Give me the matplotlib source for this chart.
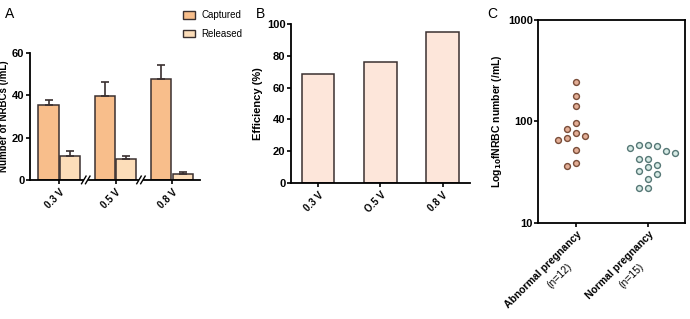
import numpy as np
import matplotlib
matplotlib.use("Agg")
import matplotlib.pyplot as plt
from matplotlib.patches import Patch

plt.rcParams["font.family"] = ["Liberation Sans", "DejaVu Sans"]
plt.rcParams["font.weight"] = "bold"
plt.rcParams["axes.labelweight"] = "bold"
plt.rcParams["mathtext.default"] = "bf"

# Panel A: captured / released NRBCs per voltage
voltages = ["0.3 V", "0.5 V", "0.8 V"]
captured = [35.4, 39.7, 47.9]
captured_err = [2.4, 6.7, 6.4]
released = [11.5, 9.8, 3.0]
released_err = [2.2, 1.7, 0.6]

# Panel B: efficiency
eff_labels = ["0.3 V", "O.5 V", "0.8 V"]
efficiency = [68.6, 76.3, 94.9]

# Panel C: fNRBC counts
groups = ["Abnormal pregnancy", "Normal pregnancy"]
group_n = ["(n=12)", "(n=15)"]
abnormal = [243, 178, 142, 95.6, 85, 72, 65, 69, 77, 52, 36.4, 39]
normal = [57.8, 54.4, 57.4, 58.9, 50.5, 48.5, 43, 43, 37, 35.2,
          30.3, 32.2, 27, 22.2, 22.2]

C_CAP = "#F8BE8B"
C_REL = "#FCDDB9"
C_EFF = "#FDE6DA"
EDGE = "#3a3030"

fig = plt.figure(figsize=(6.9, 3.19), dpi=100)

# ---------------- A ----------------
axA = fig.add_axes([0.0435, 0.436, 0.2465, 0.398])
x = np.arange(len(voltages))
w = 0.36
axA.bar(x - 0.19, captured, w, color=C_CAP, edgecolor=EDGE, linewidth=1.1,
        yerr=[np.zeros(3), captured_err], capsize=3,
        error_kw=dict(elinewidth=1.2, capthick=1.2, ecolor=EDGE))
axA.bar(x + 0.19, released, w, color=C_REL, edgecolor=EDGE, linewidth=1.1,
        yerr=[np.zeros(3), released_err], capsize=3,
        error_kw=dict(elinewidth=1.2, capthick=1.2, ecolor=EDGE))
axA.set_xlim(-0.52, 2.5)
axA.set_ylim(0, 60)
axA.set_yticks([0, 20, 40, 60])
axA.set_xticks(x)
axA.set_xticklabels(voltages, rotation=45, ha="right", rotation_mode="anchor",
                    fontsize=7)
axA.tick_params(axis="y", labelsize=8, width=1.2, length=3, pad=1)
axA.tick_params(axis="x", width=1.2, length=3, pad=2)
for s in ["top", "right", "bottom"]:
    axA.spines[s].set_visible(False)
axA.spines["left"].set_linewidth(1.3)
axA.set_ylabel("Number of NRBCs (/mL)", fontsize=7)
axA.yaxis.set_label_coords(-0.125, 0.5)

# broken x axis
tr = axA.get_xaxis_transform()
breaks = [0.47, 1.45]
segs = [(-0.52, breaks[0] - 0.05), (breaks[0] + 0.05, breaks[1] - 0.05),
        (breaks[1] + 0.05, 2.5)]
for a, b in segs:
    axA.plot([a, b], [0, 0], color="black", lw=1.3, transform=tr, clip_on=False)
for b in breaks:
    for d in (-0.035, 0.035):
        axA.plot([b + d - 0.04, b + d + 0.04], [-0.03, 0.03], color="black",
                 lw=1.0, transform=tr, clip_on=False)

fig.legend(handles=[Patch(facecolor=C_CAP, edgecolor=EDGE),
                    Patch(facecolor=C_REL, edgecolor=EDGE)],
           labels=["Captured", "Released"], loc="upper left",
           bbox_to_anchor=(0.252, 0.995), frameon=False, handlelength=1.3,
           handleheight=0.8, labelspacing=0.9, handletextpad=0.6,
           prop=dict(size=7, weight="normal"))

# ---------------- B ----------------
axB = fig.add_axes([0.4217, 0.426, 0.2594, 0.499])
xb = np.arange(len(eff_labels))
axB.bar(xb, efficiency, 0.52, color=C_EFF, edgecolor=EDGE, linewidth=1.1)
axB.set_xlim(-0.44, 2.44)
axB.set_ylim(0, 100)
axB.set_yticks(range(0, 101, 20))
axB.set_xticks(xb)
axB.set_xticklabels(eff_labels, rotation=45, ha="right", rotation_mode="anchor",
                    fontsize=7)
axB.tick_params(axis="y", labelsize=8, width=1.2, length=3, pad=1)
axB.tick_params(axis="x", width=1.2, length=3, pad=2)
for s in ["top", "right"]:
    axB.spines[s].set_visible(False)
for s in ["left", "bottom"]:
    axB.spines[s].set_linewidth(1.3)
axB.set_ylabel("Efficiency (%)", fontsize=8, labelpad=3)

# ---------------- C ----------------
axC = fig.add_axes([0.78, 0.302, 0.213, 0.635])
axC.set_yscale("log")
axC.set_ylim(10, 1000)
axC.set_xlim(-0.53, 1.51)


def swarm(vals, step, ypx, xpx):
    # greedy beeswarm in pixel units, columns of width `step`
    order = np.argsort(vals)[::-1]
    placed = []
    offs = np.zeros(len(vals))
    cands = [0, -1, 1, -2, 2, 3, -3]
    for i in order:
        y = np.log10(vals[i]) * ypx
        for c in cands:
            xo = c * step
            if all((xo - px) ** 2 + (y - py) ** 2 >= (step * 0.95) ** 2
                   for px, py in placed):
                break
        placed.append((xo, y))
        offs[i] = xo / xpx
    return offs


face = ["#E3AE96", "#D8EBE6"]
edge = ["#7A4E3A", "#557775"]
for gi, vals in enumerate([abnormal, normal]):
    offs = swarm(np.array(vals), 9.0, 101.0, 72.0)
    axC.scatter(gi + offs, vals, s=18, facecolor=face[gi], edgecolor=edge[gi],
                linewidth=1.0, zorder=3)

axC.set_yticks([10, 100, 1000])
axC.set_yticklabels(["10", "100", "1000"])
axC.minorticks_off()
axC.set_xticks([0, 1])
axC.set_xticklabels(groups, rotation=45, ha="right", rotation_mode="anchor",
                    fontsize=7.5)
for gi, lab in enumerate(group_n):
    axC.annotate(lab, xy=(gi, 0), xycoords=("data", "axes fraction"),
                 xytext=(-7, -28), textcoords="offset points", rotation=45,
                 ha="right", va="top", rotation_mode="anchor",
                 fontsize=7.5, fontweight="normal")
axC.tick_params(axis="y", labelsize=8, width=1.2, length=3, pad=1)
axC.tick_params(axis="x", width=1.2, length=3, pad=2)
for s in axC.spines.values():
    s.set_linewidth(1.3)
axC.set_ylabel("Log$_{10}$fNRBC number (/mL)", fontsize=7.5, labelpad=3)

fig.text(5 / 690, 1 - 14 / 319, "A", fontsize=10, fontweight="normal", va="center")
fig.text(256 / 690, 1 - 14 / 319, "B", fontsize=10, fontweight="normal", va="center")
fig.text(487 / 690, 1 - 14 / 319, "C", fontsize=10, fontweight="normal", va="center")

fig.savefig("out.png", dpi=100)
